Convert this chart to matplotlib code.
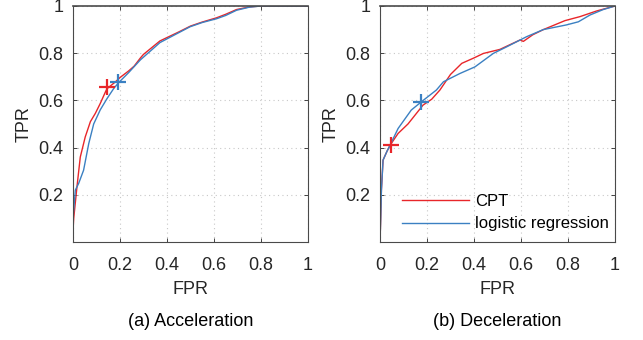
import matplotlib.pyplot as plt

plt.rcParams['font.family'] = ['Liberation Sans', 'DejaVu Sans']

# Acceleration ROC curves
acc_cpt_fpr = [0, 0, 0.003, 0.017, 0.031, 0.052, 0.074, 0.095, 0.116, 0.138, 0.145, 0.18, 0.2, 0.237,
               0.26, 0.287, 0.3, 0.37, 0.45, 0.5, 0.55, 0.611, 0.65, 0.696, 0.75, 0.8, 1]
acc_cpt_tpr = [0, 0.05, 0.1, 0.235, 0.36, 0.445, 0.51, 0.545, 0.587, 0.636, 0.65, 0.678, 0.697, 0.725,
               0.745, 0.78, 0.795, 0.852, 0.89, 0.915, 0.932, 0.95, 0.965, 0.985, 0.996, 1, 1]
acc_lr_fpr = [0, 0, 0.01, 0.024, 0.045, 0.067, 0.088, 0.116, 0.145, 0.173, 0.194, 0.237, 0.287, 0.37,
              0.498, 0.55, 0.611, 0.65, 0.696, 0.75, 0.8, 1]
acc_lr_tpr = [0, 0.1, 0.22, 0.248, 0.304, 0.417, 0.5, 0.56, 0.608, 0.65, 0.675, 0.718, 0.772, 0.845,
              0.912, 0.93, 0.946, 0.96, 0.982, 0.995, 1, 1]
acc_cpt_pt = (0.145, 0.655)
acc_lr_pt = (0.192, 0.678)

# Deceleration ROC curves
dec_cpt_fpr = [0, 0.003, 0.006, 0.013, 0.03, 0.045, 0.077, 0.119, 0.155, 0.183, 0.22, 0.255, 0.3, 0.348,
               0.4, 0.44, 0.51, 0.596, 0.61, 0.65, 0.695, 0.787, 0.851, 0.922, 1]
dec_cpt_tpr = [0, 0.1, 0.22, 0.347, 0.385, 0.413, 0.46, 0.5, 0.545, 0.58, 0.605, 0.644, 0.71, 0.757,
               0.78, 0.799, 0.816, 0.856, 0.85, 0.878, 0.9, 0.938, 0.955, 0.979, 1]
dec_lr_fpr = [0, 0.003, 0.006, 0.013, 0.03, 0.045, 0.077, 0.133, 0.176, 0.24, 0.27, 0.34, 0.404, 0.482,
              0.539, 0.624, 0.695, 0.794, 0.844, 0.894, 0.95, 1]
dec_lr_tpr = [0, 0.1, 0.22, 0.347, 0.385, 0.415, 0.481, 0.559, 0.594, 0.644, 0.679, 0.714, 0.742, 0.799,
              0.827, 0.87, 0.9, 0.92, 0.933, 0.962, 0.985, 1]
dec_cpt_pt = (0.045, 0.413)
dec_lr_pt = (0.176, 0.594)

ticks = [0, 0.2, 0.4, 0.6, 0.8, 1]
tick_labels = ['0', '0.2', '0.4', '0.6', '0.8', '1']
ytick_vals = [0.2, 0.4, 0.6, 0.8, 1]
ytick_labels = ['0.2', '0.4', '0.6', '0.8', '1']
captions = ['(a) Acceleration', '(b) Deceleration']

red = '#e8262a'
blue = '#3b80c2'
dark = '#262626'

fig = plt.figure(figsize=(6.43, 3.40), dpi=100)
ax1 = fig.add_axes([73 / 643, 98 / 340, 235 / 643, 236 / 340])
ax2 = fig.add_axes([380 / 643, 98 / 340, 235 / 643, 236 / 340])

panels = [
    (ax1, acc_cpt_fpr, acc_cpt_tpr, acc_lr_fpr, acc_lr_tpr, acc_cpt_pt, acc_lr_pt),
    (ax2, dec_cpt_fpr, dec_cpt_tpr, dec_lr_fpr, dec_lr_tpr, dec_cpt_pt, dec_lr_pt),
]

for i, (ax, cx, cy, lx, ly, cp, lp) in enumerate(panels):
    ax.plot(cx, cy, color=red, lw=1.0, label='CPT')
    ax.plot(lx, ly, color=blue, lw=1.0, label='logistic regression')
    ax.plot(*cp, marker='+', color=red, ms=11.5, mew=1.6)
    ax.plot(*lp, marker='+', color=blue, ms=11.5, mew=1.6)
    ax.set_xlim(0, 1)
    ax.set_ylim(0, 1)
    ax.set_xticks(ticks)
    ax.set_xticklabels(tick_labels)
    ax.set_yticks(ytick_vals)
    ax.set_yticklabels(ytick_labels)
    ax.grid(True, linestyle=(0, (1, 3)), color='#c8c8c8', lw=0.8)
    ax.tick_params(direction='in', top=True, right=True, length=3, width=0.6,
                   labelsize=13, colors=dark)
    ax.tick_params(axis='x', pad=11)
    ax.tick_params(axis='y', pad=7)
    for s in ax.spines.values():
        s.set_color('#4a4a4a')
        s.set_linewidth(0.8)
    ax.spines['top'].set_linewidth(1.2)
    ax.set_xlabel('FPR', fontsize=13, color=dark, labelpad=5)
    ax.set_ylabel('TPR', fontsize=13, color=dark, labelpad=4)
    ax.text(0.5, -0.335, captions[i], transform=ax.transAxes, ha='center', va='center',
            fontsize=13, color='black')

ax2.legend(loc='lower left', frameon=False, fontsize=12, handlelength=4.05,
           handletextpad=0.35, borderaxespad=0.0, borderpad=0.0, labelspacing=0.45,
           bbox_to_anchor=(0.092, 0.045))

plt.savefig('out.png', dpi=100)
